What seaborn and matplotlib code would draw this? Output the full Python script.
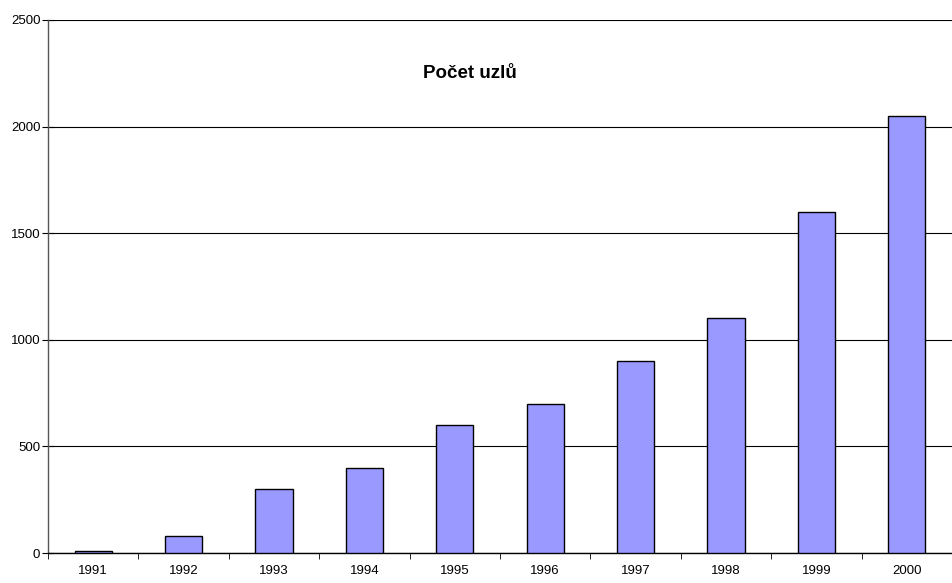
import matplotlib
matplotlib.use('Agg')
import matplotlib.pyplot as plt
import seaborn as sns
import pandas as pd
from matplotlib.ticker import FixedLocator

# data
roky = ['1991', '1992', '1993', '1994', '1995', '1996', '1997', '1998', '1999', '2000']
uzly = [10, 80, 300, 400, 600, 700, 900, 1100, 1600, 2050]
y_ticks = [0, 500, 1000, 1500, 2000, 2500]

df = pd.DataFrame({'rok': roky, 'uzly': uzly})

sns.set_style('white')
plt.rcParams['font.family'] = ['Liberation Sans', 'DejaVu Sans']
plt.rcParams['text.color'] = 'black'
plt.rcParams['xtick.color'] = 'black'
plt.rcParams['ytick.color'] = 'black'

fig = plt.figure(figsize=(9.52, 5.83), dpi=100)
ax = fig.add_axes([48 / 952, 30 / 583, 904 / 952, 533 / 583])

sns.barplot(data=df, x='rok', y='uzly', color='#9999FF', saturation=1,
            width=0.41, edgecolor='black', linewidth=1, ax=ax, zorder=3)

ax.set_xlim(-0.5, len(roky) - 0.5)
ax.set_ylim(0, 2500)
ax.set_yticks(y_ticks)
ax.set_yticklabels([str(v) for v in y_ticks], fontsize=9.5)
ax.yaxis.grid(True, color='black', linewidth=0.8, zorder=0)
ax.set_axisbelow(True)

# Excel-like ticks: labels at centres, tick marks at category boundaries
ax.tick_params(axis='x', which='major', length=0, labelsize=9.5, pad=9, labelcolor='black')
ax.xaxis.set_minor_locator(FixedLocator([i - 0.5 for i in range(len(roky) + 1)]))
ax.tick_params(axis='x', which='minor', length=4, direction='out', color='black', bottom=True)
ax.tick_params(axis='y', which='major', length=9, direction='inout', color='black', left=True,
               pad=1, labelcolor='black')

for side in ['top', 'right']:
    ax.spines[side].set_visible(False)
ax.spines['left'].set_color('#555555')
ax.spines['bottom'].set_color('black')
ax.spines['left'].set_linewidth(1)
ax.spines['bottom'].set_linewidth(1)

ax.set_xlabel('')
ax.set_ylabel('')
ax.text(0.467, 0.90, 'Počet uzlů', transform=ax.transAxes, ha='center', va='center',
        fontsize=13.5, fontweight='bold', color='black')

fig.savefig('out.png', dpi=100)
